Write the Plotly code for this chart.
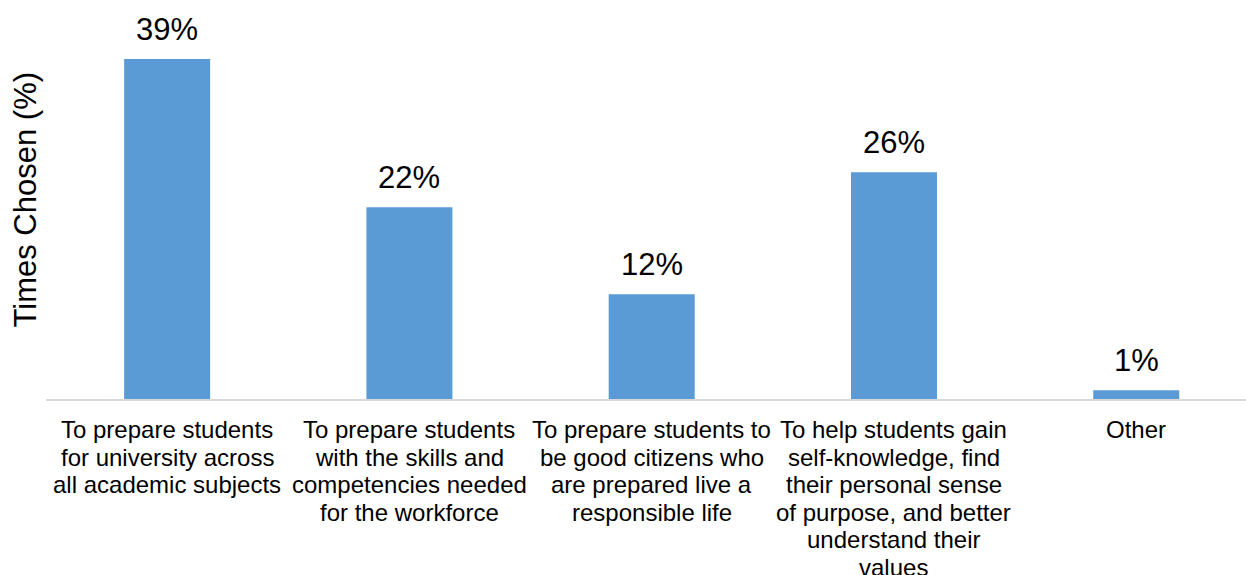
import plotly.graph_objects as go

# Survey responses: share of times each purpose was chosen
categories = [
    "To prepare students<br>for university across<br>all academic subjects",
    "To prepare students<br>with the skills and<br>competencies needed<br>for the workforce",
    "To prepare students to<br>be good citizens who<br>are prepared live a<br>responsible life",
    "To help students gain<br>self-knowledge, find<br>their personal sense<br>of purpose, and better<br>understand their<br>values",
    "Other",
]
values = [39, 22, 12, 26, 1]
y_title = "Times Chosen (%)"

FONT = "Liberation Sans, Arial, sans-serif"
BAR_COLOR = "#5B9BD5"
LINE_STEP = 27.5  # px between wrapped category label lines

fig = go.Figure()
fig.add_trace(go.Bar(
    x=list(range(len(categories))),
    y=values,
    marker=dict(color=BAR_COLOR, line=dict(width=0)),
    hoverinfo="skip",
))

annotations = []
# value labels above each bar
for i, v in enumerate(values):
    annotations.append(dict(
        x=i, y=v, xref="x", yref="y",
        text=f"{v}%", showarrow=False,
        xanchor="center", yanchor="bottom", yshift=10,
        font=dict(family=FONT, size=31, color="#000000"),
    ))

# category labels, one annotation per wrapped line for tight spacing
for i, label in enumerate(categories):
    for j, line in enumerate(label.split("<br>")):
        annotations.append(dict(
            x=i, y=0, xref="x", yref="paper",
            text=line, showarrow=False,
            xanchor="center", yanchor="top",
            yshift=-15 - j * LINE_STEP,
            font=dict(family=FONT, size=24, color="#000000"),
        ))

# rotated y-axis title
annotations.append(dict(
    x=0, y=0.5, xref="paper", yref="paper",
    text=y_title, showarrow=False, textangle=-90,
    xanchor="center", yanchor="middle", xshift=-21,
    font=dict(family=FONT, size=31, color="#000000"),
))

fig.update_layout(
    width=1246, height=575,
    margin=dict(l=46, r=0, t=0, b=176),
    paper_bgcolor="white", plot_bgcolor="white",
    showlegend=False,
    bargap=0.645,
    annotations=annotations,
    font=dict(family=FONT),
)
fig.update_xaxes(
    range=[-0.5, 4.453],
    showticklabels=False, ticks="",
    showgrid=False, zeroline=False,
    showline=True, linecolor="#D9D9D9", linewidth=2,
)
fig.update_yaxes(
    range=[0, 45.76],
    showticklabels=False, ticks="",
    showgrid=False, zeroline=False, showline=False,
)

fig.write_html("out.html")
